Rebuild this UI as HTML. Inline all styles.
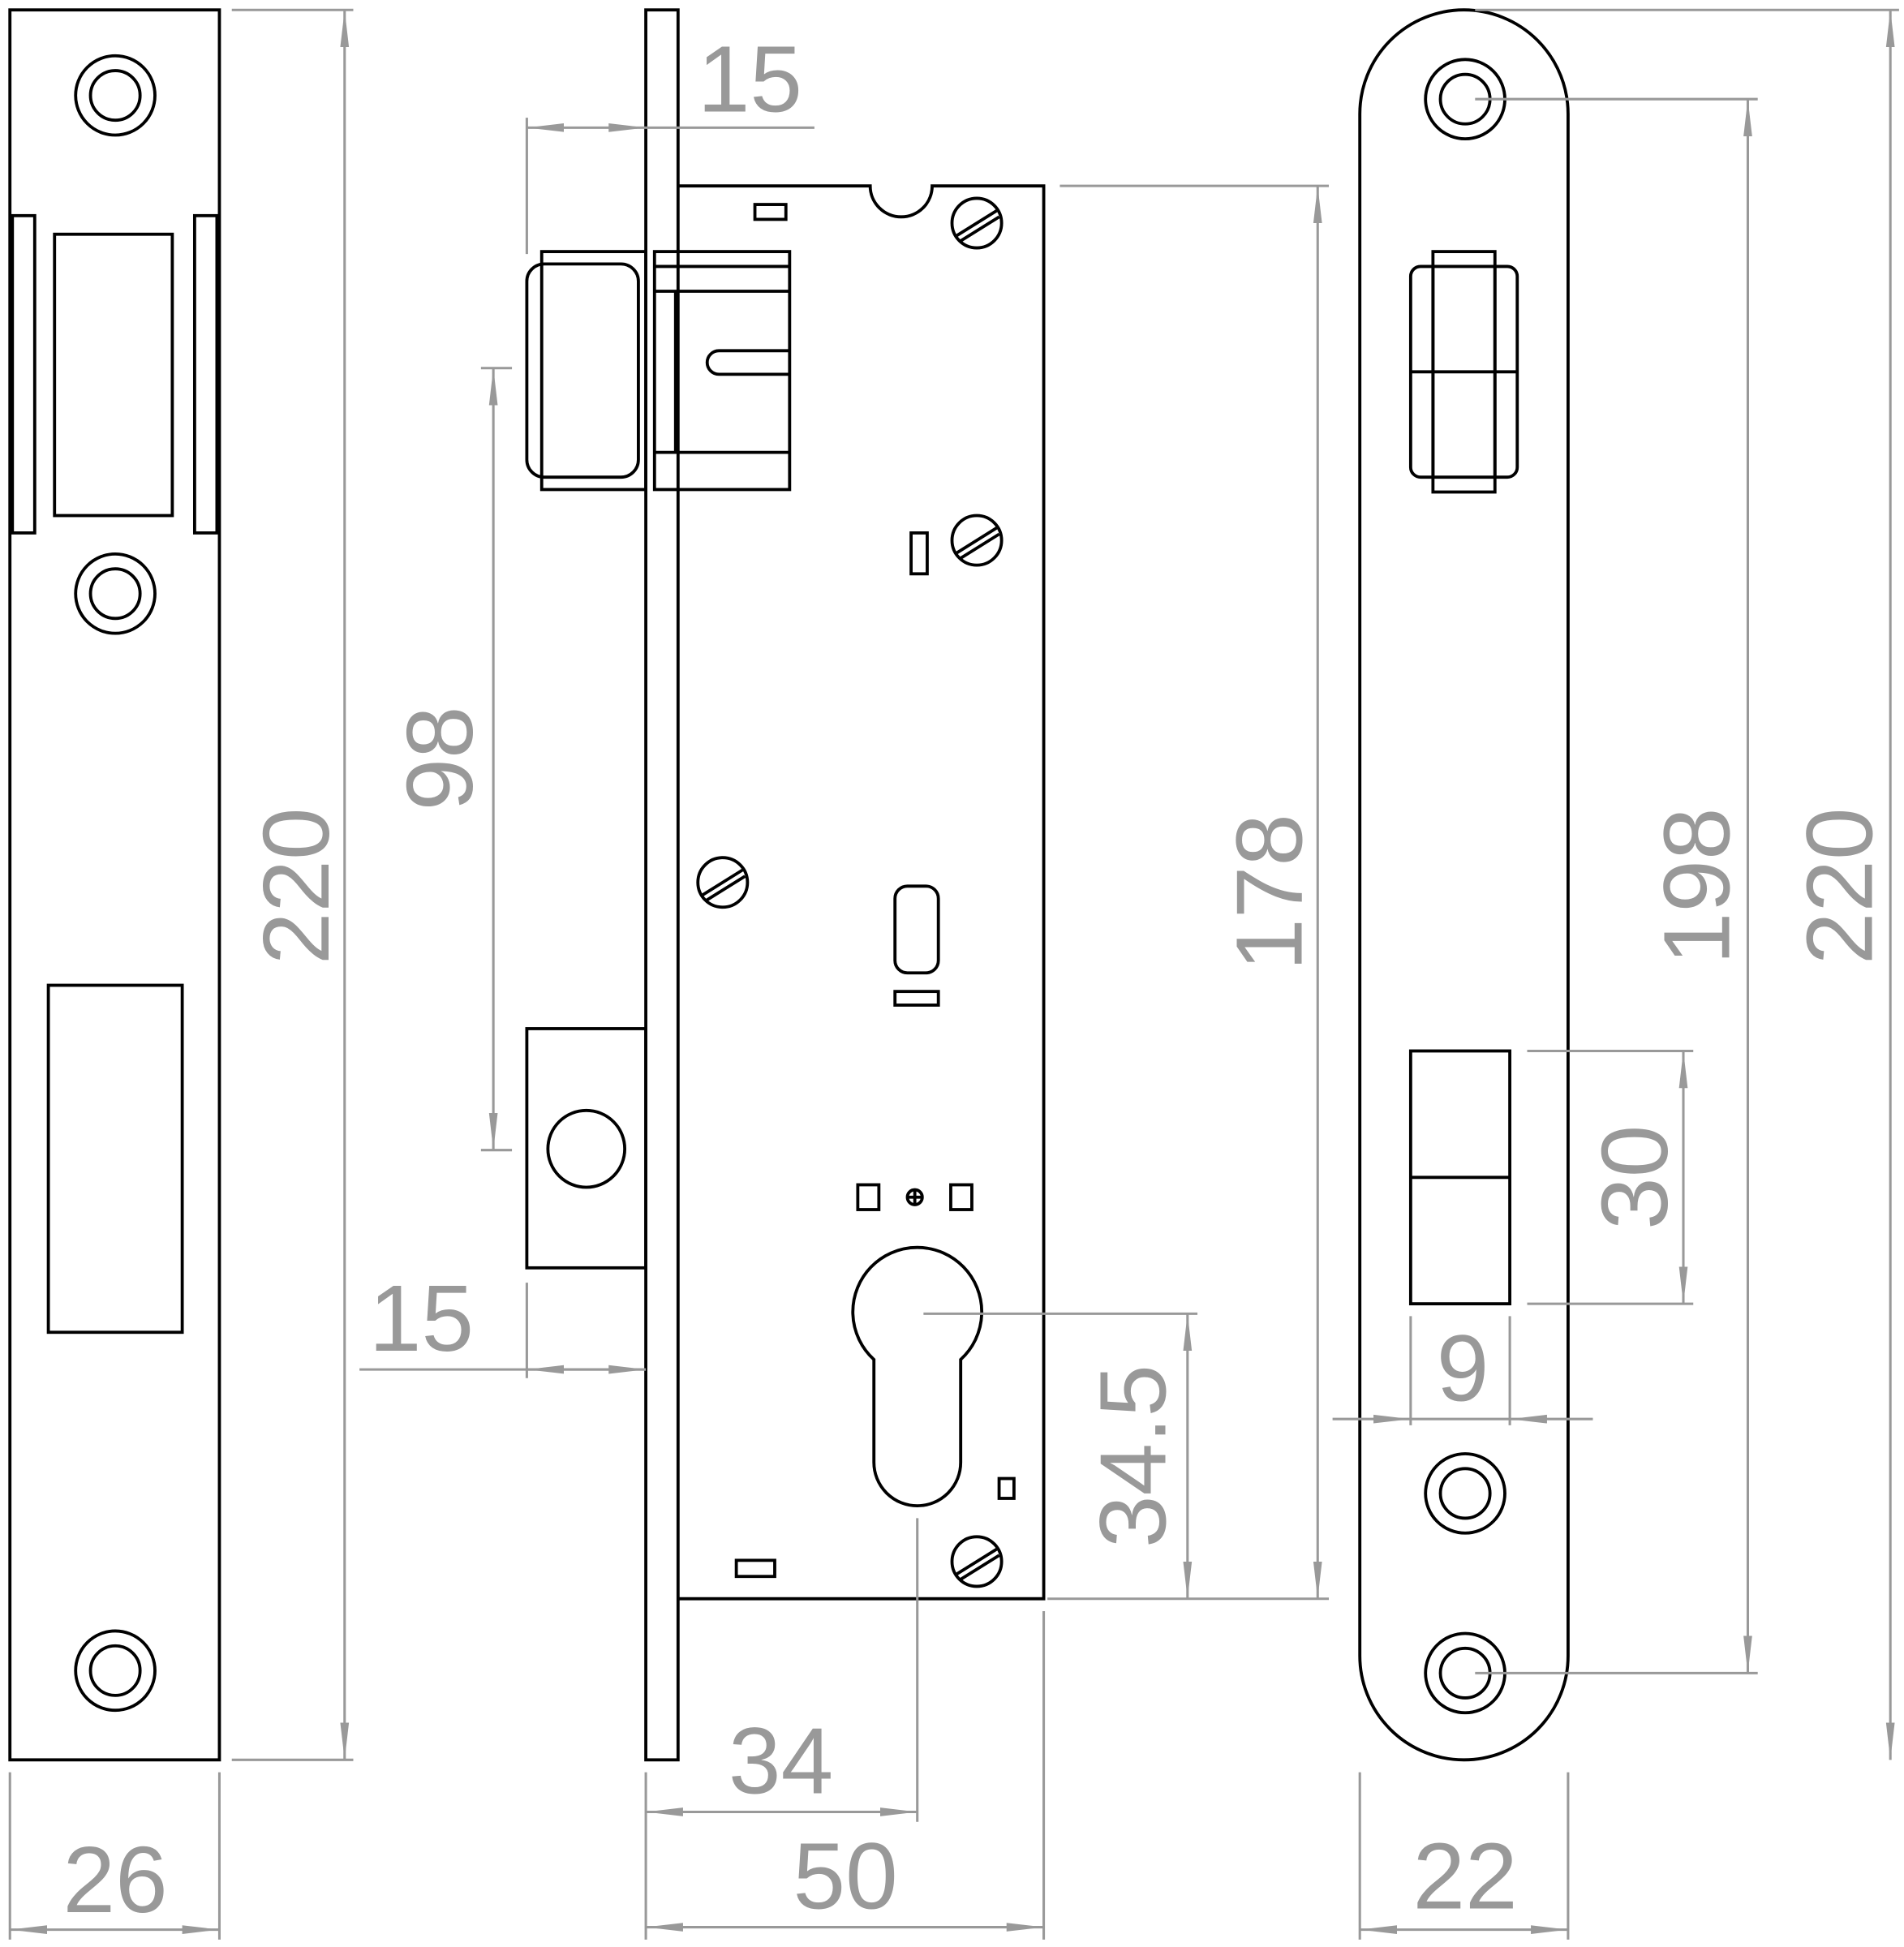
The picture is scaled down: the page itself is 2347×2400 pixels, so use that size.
<!DOCTYPE html>
<html><head><meta charset="utf-8"><style>html,body{margin:0;padding:0;background:#fff}svg{display:block}</style></head><body>
<svg width="2347" height="2400" viewBox="0 0 1536 1571" preserveAspectRatio="none" xmlns="http://www.w3.org/2000/svg">
<defs>
<marker id="a" viewBox="0 0 10 10" refX="10" refY="5" markerWidth="9" markerHeight="9" orient="auto-start-reverse" markerUnits="userSpaceOnUse"><path d="M0,1.5L10,5L0,8.5z" fill="#999"/></marker>
<marker id="b" viewBox="0 0 30 10" refX="30" refY="5" markerWidth="30" markerHeight="10" orient="auto-start-reverse" markerUnits="userSpaceOnUse"><path d="M0,1.5L30,5L0,8.5z" fill="#999"/></marker>
</defs>
<g fill="none" stroke="#000" stroke-width="2.5">
<!-- left plate -->
<rect x="8" y="8" width="169" height="1412"/>
<rect x="10" y="174" width="18" height="256"/><rect x="157" y="174" width="18" height="256"/>
<rect x="44" y="189" width="95" height="227"/>
<rect x="39" y="795" width="108" height="280"/>
<circle cx="93" cy="77" r="32"/><circle cx="93" cy="77" r="20"/>
<circle cx="93" cy="479" r="32"/><circle cx="93" cy="479" r="20"/>
<circle cx="93" cy="1348" r="32"/><circle cx="93" cy="1348" r="20"/>
<!-- middle -->
<rect x="521" y="8" width="26" height="1412"/>
<path d="M547,150 H702 A25,25 0 0 0 752,150 H842 V1290 H547"/>
<rect x="437" y="203" width="84" height="192"/>
<rect x="425" y="213" width="90" height="172" rx="14"/>
<rect x="528" y="203" width="109" height="192"/>
<path d="M528,215 H637 M528,235 H637 M528,365 H637 M545,235 V365"/>
<path d="M637,283 H580 A9,9 0 0 0 580,302 H637"/>
<rect x="425" y="830" width="96" height="193"/>
<circle cx="473" cy="927" r="31"/>
<rect x="609" y="165" width="25" height="12"/>
<rect x="735" y="430" width="13" height="33"/>
<rect x="722" y="715" width="35" height="70" rx="10"/>
<rect x="722" y="800" width="35" height="11"/>
<rect x="692" y="956" width="17" height="20"/><rect x="767" y="956" width="17" height="20"/>
<circle cx="738" cy="966" r="6"/><path d="M732,966H744M738,960V972"/>
<path d="M705,1097 A52,52 0 1 1 775,1097 V1180 A35,35 0 0 1 705,1180 Z"/>
<rect x="806" y="1193" width="12" height="16"/>
<rect x="594" y="1259" width="31" height="13"/>
<g>
<circle cx="788" cy="180" r="20"/><path d="M772,190 L804,170 M774,195 L806,175"/>
<circle cx="788" cy="436" r="20"/><path d="M772,446 L804,426 M774,451 L806,431"/>
<circle cx="583" cy="712" r="20"/><path d="M567,722 L599,702 M569,727 L601,707"/>
<circle cx="788" cy="1260" r="20"/><path d="M772,1270 L804,1250 M774,1275 L806,1255"/>
</g>
<!-- right plate -->
<rect x="1097" y="8" width="168" height="1412" rx="84"/>
<circle cx="1182" cy="80" r="32"/><circle cx="1182" cy="80" r="20"/>
<circle cx="1182" cy="1205" r="32"/><circle cx="1182" cy="1205" r="20"/>
<circle cx="1182" cy="1350" r="32"/><circle cx="1182" cy="1350" r="20"/>
<rect x="1156" y="203" width="50" height="194"/>
<rect x="1138" y="215" width="86" height="170" rx="8"/>
<path d="M1138,300 H1224 M1156,215 V385 M1206,215 V385"/>
<rect x="1138" y="848" width="80" height="204"/><path d="M1138,950 H1218"/>
</g>
<!-- dimensions -->
<g stroke="#999" stroke-width="2" fill="none">
<path d="M187,8 H285 M187,1420 H285 M8,1430 V1565 M177,1430 V1565"/>
<line x1="278" y1="8" x2="278" y2="1420" marker-start="url(#b)" marker-end="url(#b)"/>
<line x1="8" y1="1557" x2="177" y2="1557" marker-start="url(#b)" marker-end="url(#b)"/>
<path d="M425,95 V205 M521,103 H657 M388,297 H413 M388,928 H413 M425,1035 V1112 M521,1430 V1565 M842,1300 V1565 M740,1225 V1470 M855,150 H1072 M845,1290 H1072 M745,1060 H966 M1190,8 H1532 M1190,80 H1418 M1190,1350 H1418 M1232,848 H1366 M1232,1052 H1366 M1138,1062 V1150 M1218,1062 V1150 M1097,1430 V1565 M1265,1430 V1565"/>
<line x1="425" y1="103" x2="521" y2="103" marker-start="url(#b)" marker-end="url(#b)"/>
<line x1="398" y1="297" x2="398" y2="928" marker-start="url(#b)" marker-end="url(#b)"/>
<line x1="290" y1="1105" x2="521" y2="1105"/>
<line x1="425" y1="1105" x2="521" y2="1105" marker-start="url(#b)" marker-end="url(#b)"/>
<line x1="521" y1="1462" x2="740" y2="1462" marker-start="url(#b)" marker-end="url(#b)"/>
<line x1="521" y1="1555" x2="842" y2="1555" marker-start="url(#b)" marker-end="url(#b)"/>
<line x1="1063" y1="150" x2="1063" y2="1290" marker-start="url(#b)" marker-end="url(#b)"/>
<line x1="958" y1="1060" x2="958" y2="1290" marker-start="url(#b)" marker-end="url(#b)"/>
<line x1="1525" y1="8" x2="1525" y2="1420" marker-start="url(#b)" marker-end="url(#b)"/>
<line x1="1410" y1="80" x2="1410" y2="1350" marker-start="url(#b)" marker-end="url(#b)"/>
<line x1="1358" y1="848" x2="1358" y2="1052" marker-start="url(#b)" marker-end="url(#b)"/>
<line x1="1075" y1="1145" x2="1138" y2="1145" marker-end="url(#b)"/>
<line x1="1285" y1="1145" x2="1218" y2="1145" marker-end="url(#b)"/>
<path d="M1138,1145 H1218"/>
<line x1="1097" y1="1557" x2="1265" y2="1557" marker-start="url(#b)" marker-end="url(#b)"/>
</g>
<g fill="#999" font-family="Liberation Sans, sans-serif" font-size="76" text-anchor="middle">
<text transform="translate(265,715) rotate(-90)">220</text>
<text x="93" y="1543">26</text>
<text x="605" y="90">15</text>
<text transform="translate(381,612) rotate(-90)">98</text>
<text x="340" y="1090">15</text>
<text x="630" y="1447">34</text>
<text x="682" y="1540">50</text>
<text transform="translate(1050,720) rotate(-90)">178</text>
<text transform="translate(940,1175) rotate(-90)">34.5</text>
<text transform="translate(1510,715) rotate(-90)">220</text>
<text transform="translate(1395,715) rotate(-90)">198</text>
<text transform="translate(1345,950) rotate(-90)">30</text>
<text x="1180" y="1130">9</text>
<text x="1182" y="1540">22</text>
</g>
</svg>
</body></html>
